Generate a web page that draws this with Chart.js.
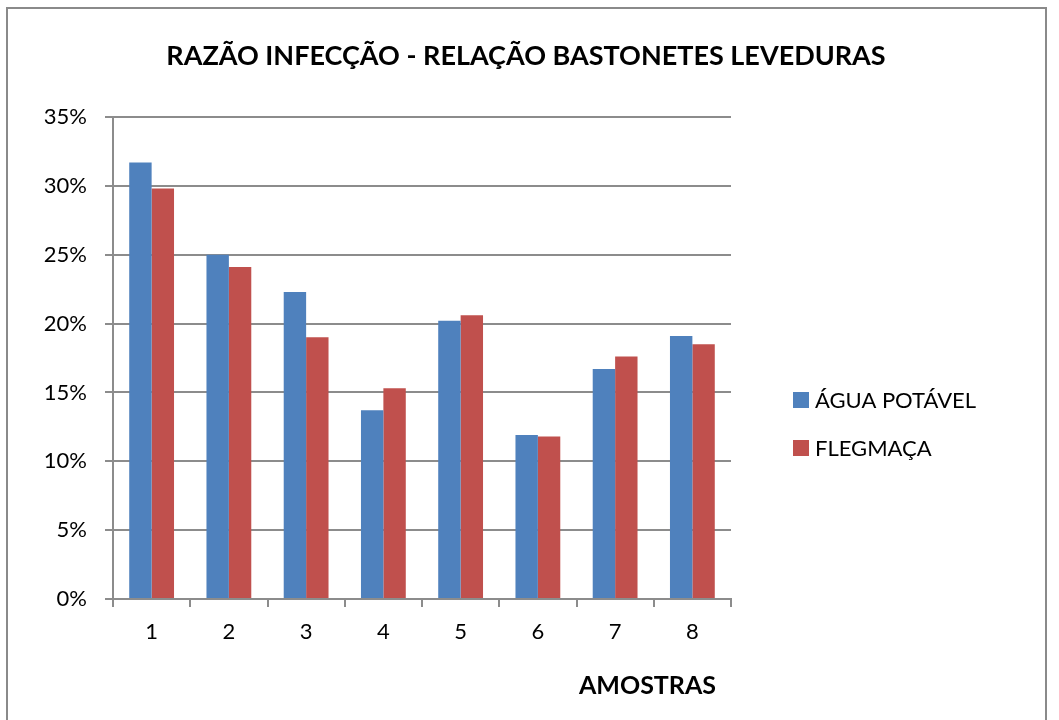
<!DOCTYPE html>
<html>
<head>
<meta charset="utf-8">
<script src="https://cdn.jsdelivr.net/npm/chart.js@4"></script>
<style>
    body { margin: 0; background: #fff; }
    #wrap { position: relative; width: 1059px; height: 720px; }
    #frame { position: absolute; left: 6px; top: 7px; width: 1041px; height: 730px; border: 2px solid #8a8a8a; box-sizing: border-box; pointer-events: none; }
</style>
</head>
<body>
<div id="wrap">
    <canvas id="razaoChart" width="1059" height="720"></canvas>
    <div id="frame"></div>
</div>
<script>
// Data
const amostras = ['1', '2', '3', '4', '5', '6', '7', '8'];
const aguaPotavel = [31.7, 25.0, 22.3, 13.7, 20.2, 11.9, 16.7, 19.1];
const flegmaca = [29.8, 24.1, 19.0, 15.3, 20.6, 11.8, 17.6, 18.5];
const seriesNames = ['ÁGUA POTÁVEL', 'FLEGMAÇA'];
const chartTitle = 'RAZÃO INFECÇÃO - RELAÇÃO BASTONETES LEVEDURAS';
const xTitle = 'AMOSTRAS';
const yMax = 35;
const yStep = 5;

const FONT = 'Lato, "Noto Sans", sans-serif';
const gridGray = '#8c8c8c';

// Title, axis title and legend placed like the Excel original
const excelText = {
    id: 'excelText',
    afterDraw(chart) {
        const ctx = chart.ctx;
        const area = chart.chartArea;
        ctx.save();
        ctx.fillStyle = '#000';
        ctx.textBaseline = 'middle';

        ctx.font = 'bold 27px ' + FONT;
        ctx.textAlign = 'center';
        ctx.fillText(chartTitle, 526, 56);

        ctx.font = 'bold 25px ' + FONT;
        ctx.textAlign = 'right';
        ctx.fillText(xTitle, area.right - 15, 686);

        ctx.font = '22px ' + FONT;
        ctx.textAlign = 'left';
        chart.data.datasets.forEach((ds, i) => {
            const y = 400 + i * 48;
            ctx.fillStyle = ds.backgroundColor;
            ctx.fillRect(793, y - 8, 16, 16);
            ctx.fillStyle = '#000';
            ctx.fillText(ds.label, 815, y + 1);
        });
        ctx.restore();
    }
};

const razaoChart = new Chart(document.getElementById('razaoChart'), {
    type: 'bar',
    data: {
        labels: amostras,
        datasets: [{
            label: seriesNames[0],
            data: aguaPotavel,
            backgroundColor: '#4f81bd',
            categoryPercentage: 0.58,
            barPercentage: 1.0,
        }, {
            label: seriesNames[1],
            data: flegmaca,
            backgroundColor: '#c0504d',
            categoryPercentage: 0.58,
            barPercentage: 1.0,
        }]
    },
    options: {
        responsive: false,
        animation: false,
        layout: {
            padding: { left: 0, right: 328, top: 117, bottom: 0 }
        },
        plugins: {
            legend: { display: false },
            tooltip: { enabled: false },
            title: { display: false }
        },
        scales: {
            x: {
                grid: {
                    display: true,
                    drawOnChartArea: false,
                    drawTicks: true,
                    tickLength: 8,
                    color: gridGray,
                    lineWidth: 2
                },
                border: { color: gridGray, width: 2 },
                ticks: {
                    color: '#000',
                    font: { family: FONT, size: 22 },
                    padding: 12
                },
                afterFit(scale) { scale.height = 121; }
            },
            y: {
                min: 0,
                max: yMax,
                ticks: {
                    stepSize: yStep,
                    color: '#000',
                    font: { family: FONT, size: 22 },
                    padding: 18,
                    callback: (v) => v + '%'
                },
                grid: {
                    color: gridGray,
                    lineWidth: 2,
                    tickLength: 8
                },
                border: { color: gridGray, width: 2 },
                afterFit(scale) { scale.width = 113; }
            }
        }
    },
    plugins: [excelText]
});
</script>
</body>
</html>
